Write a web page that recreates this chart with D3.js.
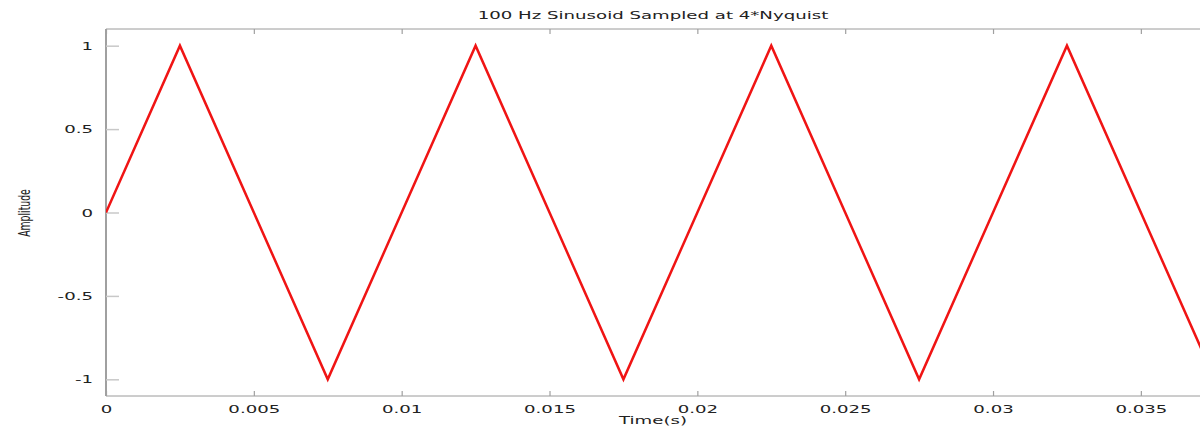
<!DOCTYPE html>
<html>
<head>
<meta charset="utf-8">
<script src="https://cdn.jsdelivr.net/npm/d3@7/dist/d3.min.js"></script>
<style>
  html, body { margin: 0; padding: 0; background: #fff; overflow: hidden; }
  text { font-family: "DejaVu Sans", sans-serif; fill: #222; }
</style>
</head>
<body>
<svg id="chart" width="1200" height="426"></svg>
<script>
// ---- data ----
const title = "100 Hz Sinusoid Sampled at 4*Nyquist";
const xLabel = "Time(s)";
const yLabel = "Amplitude";
const timeValues = [0, 0.0025, 0.005, 0.0075, 0.01, 0.0125, 0.015, 0.0175, 0.02,
                    0.0225, 0.025, 0.0275, 0.03, 0.0325, 0.035, 0.0375, 0.04];
const amplitudeValues = [0, 1, 0, -1, 0, 1, 0, -1, 0, 1, 0, -1, 0, 1, 0, -1, 0];
const xTicks = [0, 0.005, 0.01, 0.015, 0.02, 0.025, 0.03, 0.035];
const xTickLabels = ["0", "0.005", "0.01", "0.015", "0.02", "0.025", "0.03", "0.035"];
const yTicks = [-1, -0.5, 0, 0.5, 1];
const yTickLabels = ["-1", "-0.5", "0", "0.5", "1"];
const xDomain = [0, 0.037];
const yDomain = [-1.1, 1.1];

(function () {
// ---- layout ----
const mLeft = 106, mRight = 1200, mTop = 29, mBottom = 396;
const stretch = 1.65;

const svg = d3.select("#chart");
const x = d3.scaleLinear().domain(xDomain).range([mLeft, mRight]);
const y = d3.scaleLinear().domain(yDomain).range([mBottom, mTop]);

svg.append("defs").append("clipPath").attr("id", "plotclip")
  .append("rect").attr("x", mLeft).attr("y", mTop - 5)
  .attr("width", mRight - mLeft).attr("height", mBottom - mTop + 10);

// frame lines
svg.append("line").attr("x1", mLeft).attr("x2", mRight).attr("y1", mTop).attr("y2", mTop)
  .attr("stroke", "#9a9a9a").attr("stroke-width", 1);
svg.append("line").attr("x1", mLeft).attr("x2", mRight).attr("y1", mBottom).attr("y2", mBottom)
  .attr("stroke", "#9a9a9a").attr("stroke-width", 1);
svg.append("line").attr("x1", mLeft).attr("x2", mLeft).attr("y1", mTop).attr("y2", mBottom)
  .attr("stroke", "#808080").attr("stroke-width", 1.5);

// x ticks (bottom and top) via axis
const xAxisB = d3.axisBottom(x).tickValues(xTicks).tickSize(-5).tickSizeOuter(0)
  .tickFormat((d, i) => xTickLabels[i]).tickPadding(9);
const gxb = svg.append("g").attr("transform", `translate(0,${mBottom})`).call(xAxisB);
gxb.select(".domain").remove();
gxb.selectAll(".tick line").attr("stroke", "#a0a0a0").attr("stroke-width", 1.2);
gxb.selectAll(".tick text").attr("font-size", 11).attr("fill", "#222")
  .attr("font-family", "DejaVu Sans").attr("dy", "0.71em")
  .attr("transform", `scale(${stretch},1)`);

const xAxisT = d3.axisTop(x).tickValues(xTicks).tickSize(-5).tickSizeOuter(0).tickFormat("");
const gxt = svg.append("g").attr("transform", `translate(0,${mTop})`).call(xAxisT);
gxt.select(".domain").remove();
gxt.selectAll(".tick line").attr("stroke", "#a0a0a0").attr("stroke-width", 1.2);

// y ticks
const yAxis = d3.axisLeft(y).tickValues(yTicks).tickSize(-13).tickSizeOuter(0)
  .tickFormat((d, i) => yTickLabels[i]).tickPadding(0);
const gy = svg.append("g").attr("transform", `translate(${mLeft},0)`).call(yAxis);
gy.select(".domain").remove();
gy.selectAll(".tick line").attr("stroke", "#c8c8c8").attr("stroke-width", 1.5);
gy.selectAll(".tick text").attr("font-size", 11).attr("fill", "#222")
  .attr("font-family", "DejaVu Sans").attr("text-anchor", "end")
  .attr("x", -13 / stretch)
  .attr("transform", `scale(${stretch},1)`);

// line
const line = d3.line().x((d, i) => x(timeValues[i])).y(d => y(d));
svg.append("g").attr("clip-path", "url(#plotclip)")
  .append("path").datum(amplitudeValues)
  .attr("d", line).attr("fill", "none").attr("stroke", "#f01414")
  .attr("stroke-width", 2.5).attr("stroke-linejoin", "miter");

// title
const cx = (mLeft + mRight) / 2;
svg.append("text").attr("transform", `translate(${cx},19) scale(${stretch},1)`)
  .attr("text-anchor", "middle").attr("font-size", 11).text(title);

// x label
svg.append("text").attr("transform", `translate(${cx},424) scale(${stretch},1)`)
  .attr("text-anchor", "middle").attr("font-size", 11).text(xLabel);

// y label (condensed)
svg.append("text").attr("transform", `translate(30,213) rotate(-90) scale(0.58,1)`)
  .attr("text-anchor", "middle").attr("font-size", 16).text(yLabel);
})();
</script>
</body>
</html>
